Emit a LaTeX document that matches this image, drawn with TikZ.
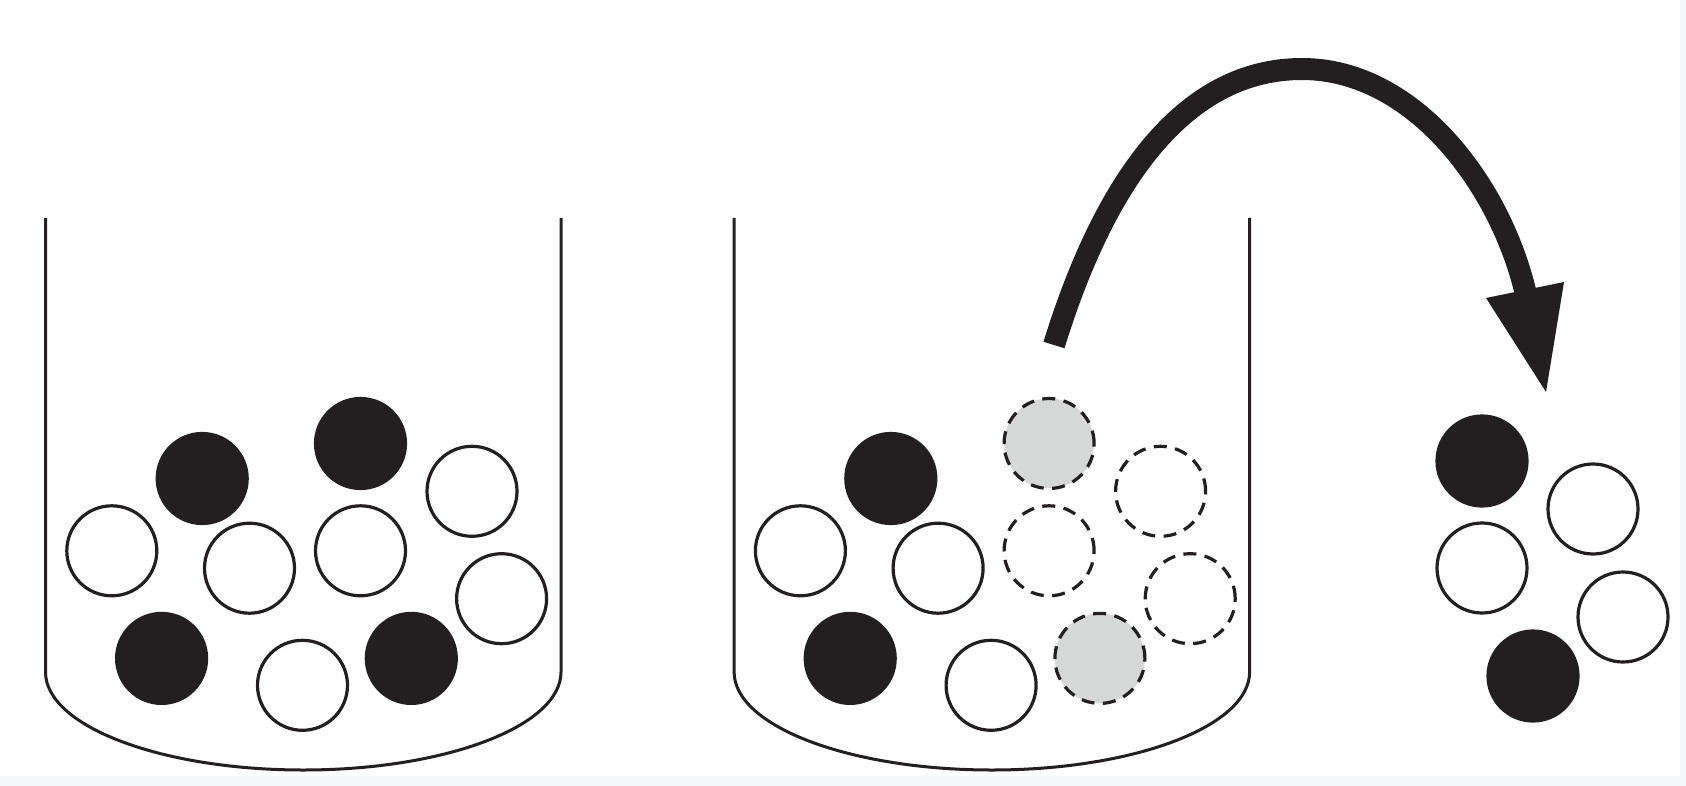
\documentclass[tikz,border=0pt]{standalone}
\usetikzlibrary{calc}
\definecolor{ink}{RGB}{35,31,32}
\definecolor{ghost}{RGB}{214,216,215}
\definecolor{edge}{RGB}{245,247,250}
\tikzset{
  ball/.style={circle, minimum size=90pt, inner sep=0pt, line width=3.2pt, draw=ink},
  solid ball/.style={ball, fill=ink},
  open ball/.style={ball, fill=white},
  gone ball/.style={ball, dash pattern=on 13pt off 8.5pt},
  picked ball/.style={gone ball, fill=ghost},
  beakerline/.style={line width=3pt, draw=ink},
  shaft/.style={line width=22pt, draw=ink, line cap=butt},
}
\begin{document}
\begin{tikzpicture}[x=1pt, y=-1pt]
\useasboundingbox (0,0) rectangle (1686,786);
\fill[edge] (0,776) rectangle (1686,786);
\fill[edge] (1680,0) rectangle (1686,786);
% beakers
\draw[beakerline] (45.5,218) -- (45.5,672) arc[start angle=180, end angle=0, x radius=257.75, y radius=98] -- (561,218);
\draw[beakerline] (734.1,218) -- (734.1,672) arc[start angle=180, end angle=0, x radius=257.75, y radius=98] -- (1249.6,218);
% beaker 1 balls
\node[solid ball] (a1) at (202.2,478.5) {};
\node[solid ball] (a2) at (360.5,443.5) {};
\node[open ball] (a3) at (472,491.3) {};
\node[open ball] (a4) at (111.8,550.8) {};
\node[open ball] (a5) at (249.5,568.2) {};
\node[open ball] (a6) at (360.5,550.8) {};
\node[open ball] (a7) at (501.6,598.7) {};
\node[solid ball] (a8) at (161.6,658.4) {};
\node[open ball] (a9) at (302.5,685.3) {};
\node[solid ball] (a10) at (411.3,658.4) {};
% beaker 2 balls
\begin{scope}[xshift=688.6pt]
\node[solid ball] (c1) at (202.2,478.5) {};
\node[picked ball] (c2) at (360.5,443.5) {};
\node[gone ball] (c3) at (472,491.3) {};
\node[open ball] (c4) at (111.8,550.8) {};
\node[open ball] (c5) at (249.5,568.2) {};
\node[gone ball] (c6) at (360.5,550.8) {};
\node[gone ball] (c7) at (501.6,598.7) {};
\node[solid ball] (c8) at (161.6,658.4) {};
\node[open ball] (c9) at (302.5,685.3) {};
\node[picked ball] (c10) at (411.3,658.4) {};
\end{scope}
% drawn sample
\node[solid ball] (d1) at (1482,461) {};
\node[open ball] (d2) at (1593,509) {};
\node[open ball] (d3) at (1482,568) {};
\node[open ball] (d4) at (1623,617) {};
\node[solid ball] (d5) at (1533,676) {};
% arrow
\coordinate (tail) at (1054,345);
\coordinate (apex) at (1302,69);
\coordinate (hbase) at (1527,299);
\coordinate (hl) at (1486,298);
\coordinate (hr) at (1564,282);
\coordinate (tip) at (1546,392);
\draw[shaft] (tail) .. controls (1108,170) and (1190,69) .. (apex)
  .. controls (1415,69) and (1503,188) .. (hbase);
\fill[ink] (hl) -- (hr) -- (tip) -- cycle;
\end{tikzpicture}
\end{document}
